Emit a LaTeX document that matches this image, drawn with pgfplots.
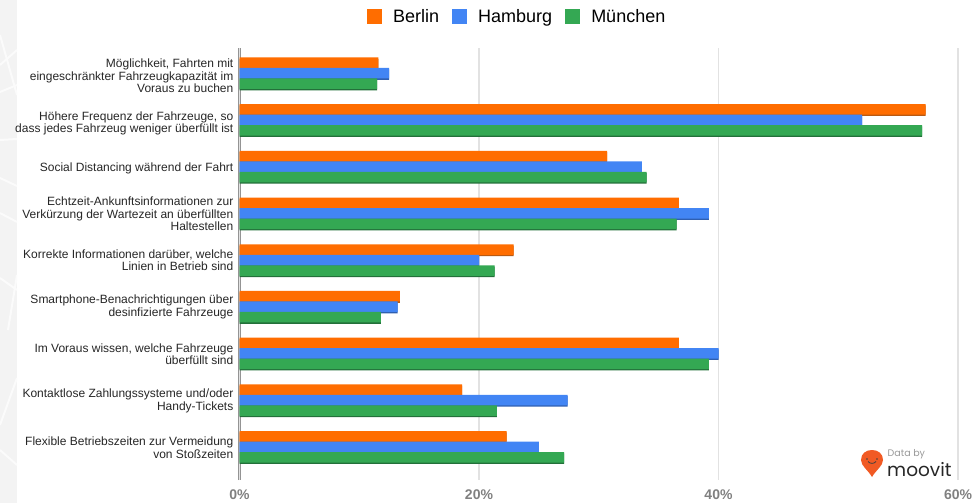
\documentclass[border=0pt]{standalone}
\usepackage{pgfplots}
\pgfplotsset{compat=1.18}
\usepackage{fontspec}
\setmainfont{Liberation Sans}
\newfontfamily\logofont{Poppins}
\definecolor{berlin}{HTML}{FF6D00}
\definecolor{hamburg}{HTML}{4285F4}
\definecolor{muenchen}{HTML}{34A853}
\definecolor{berlinD}{HTML}{B85A14}
\definecolor{hamburgD}{HTML}{2F5FB0}
\definecolor{muenchenD}{HTML}{23703A}
\definecolor{gridc}{HTML}{E2E2E2}
\definecolor{stripbg}{HTML}{F3F3F3}
\definecolor{logopin}{HTML}{F15A24}

% survey shares in percent, rows top to bottom
\pgfplotstableread{
idx berlin hamburg muenchen
0 11.6 12.5 11.5
1 57.3 52.0 57.0
2 30.7 33.6 34.0
3 36.7 39.2 36.5
4 22.9 20.0 21.3
5 13.4 13.2 11.8
6 36.7 40.0 39.2
7 18.6 27.4 21.5
8 22.3 25.0 27.1
}\shares

\pgfplotsset{squarekey/.style={legend image code/.code={\fill[##1] (0pt,-7.5pt) rectangle (15.5pt,8pt);}}}

\begin{document}
\begin{tikzpicture}[x=1pt,y=1pt]
\path[use as bounding box] (0,0) rectangle (973,503);
% street-map strip along the left edge
\fill[stripbg] (0,0) rectangle (17,503);
\begin{scope}[white!70!stripbg, line width=2pt]
\clip (0,0) rectangle (17,503);
\draw (0,468) -- (17,408);
\draw (0,438) -- (17,453);
\draw (0,411) -- (17,418);
\draw (0,363) -- (17,364);
\draw (0,325) -- (17,317);
\draw (0,290) -- (17,281);
\draw (0,225) -- (17,213);
\draw (17,228) -- (8,173);
\draw (17,125) -- (0,78);
\draw (0,53) -- (17,38);
\end{scope}
% vertical zero line, under the bars
\draw[black!42, line width=2.6pt] (239.3,23) -- (239.3,455);
\begin{axis}[
  at={(239.5pt,23pt)}, anchor=south west,
  scale only axis, width=718.5pt, height=432pt,
  xmin=0, xmax=60, ymin=-0.54, ymax=8.71, y dir=reverse,
  xtick={0,20,40,60}, xticklabel={\pgfmathprintnumber{\tick}\%},
  /pgf/number format/assume math mode=true,
  % wrapped labels sit slightly off their group centres
  ytick={0.024,1.041,2.015,2.979,3.970,4.970,5.983,6.990,7.979},
  yticklabels={
    {Möglichkeit, Fahrten mit\\eingeschränkter Fahrzeugkapazität im\\Voraus zu buchen},
    {Höhere Frequenz der Fahrzeuge, so\\dass jedes Fahrzeug weniger überfüllt ist},
    {Social Distancing während der Fahrt},
    {Echtzeit-Ankunftsinformationen zur\\Verkürzung der Wartezeit an überfüllten\\Haltestellen},
    {Korrekte Informationen darüber, welche\\Linien in Betrieb sind},
    {Smartphone-Benachrichtigungen über\\desinfizierte Fahrzeuge},
    {Im Voraus wissen, welche Fahrzeuge\\überfüllt sind},
    {Kontaktlose Zahlungssysteme und/oder\\Handy-Tickets},
    {Flexible Betriebszeiten zur Vermeidung\\von Stoßzeiten}},
  yticklabel style={align=right, font=\fontsize{12}{12.8}\selectfont, text=black!85, inner sep=0pt, xshift=-6pt, yshift=-1.5pt},
  xticklabel style={font=\fontsize{14}{16}\selectfont\bfseries, text=black!50, inner sep=0pt, yshift=-10pt},
  axis line style={draw=none},
  major tick length=0pt,
  xmajorgrids, grid style={gridc, line width=1.3pt},
  clip=false,
  legend style={at={(rel axis cs:0,0)}, anchor=south west, draw=none, fill=none,
    xshift=127pt, yshift=432pt+22pt, font=\fontsize{18}{20}\selectfont, legend columns=3,
    /tikz/every even column/.append style={column sep=10.5pt},
    /tikz/every odd column/.append style={column sep=9pt}, inner sep=0pt},
]
% darker copies a little lower give each bar its bottom edge
\addplot[xbar, forget plot, bar width=10.5pt, bar shift=9.2pt, draw=none, fill=berlinD] table[x=berlin,y=idx]{\shares};
\addplot[xbar, forget plot, bar width=10.5pt, bar shift=-1.3pt, draw=none, fill=hamburgD] table[x=hamburg,y=idx]{\shares};
\addplot[xbar, forget plot, bar width=10.5pt, bar shift=-11.8pt, draw=none, fill=muenchenD] table[x=muenchen,y=idx]{\shares};
\addplot[xbar, squarekey, bar width=10.5pt, bar shift=10.5pt, draw=none, fill=berlin] table[x=berlin,y=idx]{\shares};
\addplot[xbar, squarekey, bar width=10.5pt, bar shift=0pt, draw=none, fill=hamburg] table[x=hamburg,y=idx]{\shares};
\addplot[xbar, squarekey, bar width=10.5pt, bar shift=-10.5pt, draw=none, fill=muenchen] table[x=muenchen,y=idx]{\shares};
\legend{Berlin,Hamburg,München}
\end{axis}
% data credit
\fill[logopin] (872,26) .. controls (868,33) and (861,37) .. (861,43)
  .. controls (861,49.5) and (866,53) .. (872,53)
  .. controls (878,53) and (883,49.5) .. (883,43)
  .. controls (883,37) and (876,33) .. (872,26) -- cycle;
\fill[black!75] (867,44) circle (0.9);
\fill[black!75] (877,44) circle (0.9);
\draw[black!75, line width=0.8pt] (868,41.5) .. controls (870,39) and (874,39) .. (876,41.5);
\node[anchor=west, inner sep=0pt, text=black!40, font=\fontsize{9.5}{11}\logofont] at (887.5,48.5) {Data by};
\node[anchor=west, inner sep=0pt, text=black!85, font=\fontsize{18.5}{20}\logofont] at (887,33.5) {moovit};
\end{tikzpicture}
\end{document}
